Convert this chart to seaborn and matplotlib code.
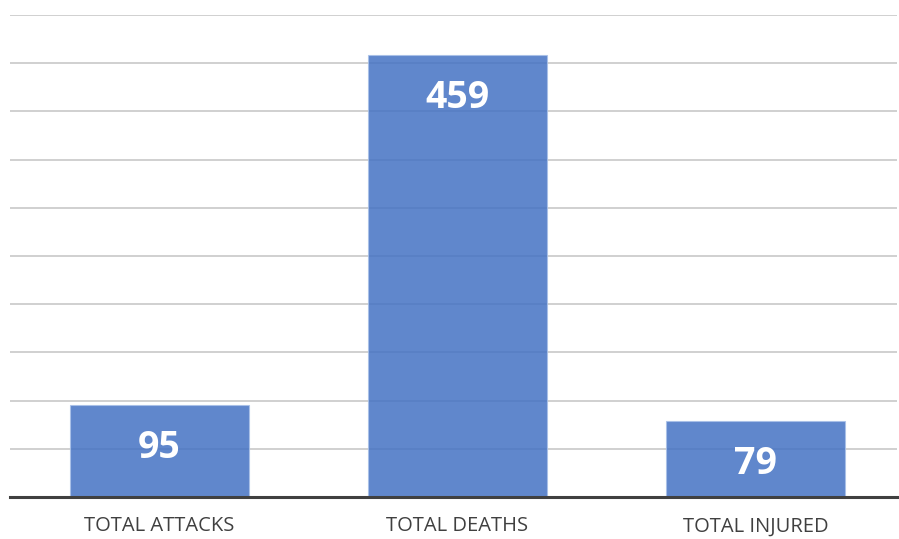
import pandas as pd
import matplotlib.pyplot as plt
import seaborn as sns

categories = ["TOTAL ATTACKS", "TOTAL DEATHS", "TOTAL INJURED"]
values = [95, 459, 79]

df = pd.DataFrame({"category": categories, "value": values})

sns.set_style("white")
plt.rcParams["font.family"] = ["Open Sans", "DejaVu Sans"]

fig = plt.figure(figsize=(8.99, 5.39), dpi=100)
ax = fig.add_axes([10 / 899, 1 - 497 / 539, 887 / 899, (497 - 15) / 539])

sns.barplot(data=df, x="category", y="value", ax=ax, color="#4472C4",
            alpha=0.85, width=0.6, edgecolor="#a9c0e8", linewidth=0.8,
            saturation=1)

ax.set_xlim(-0.5, 2.475)
ax.set_ylim(0, 500)
ax.set_yticks(range(50, 501, 50))
ax.set_axisbelow(True)
ax.yaxis.grid(True, color="#c4c4c4", linewidth=1.1)
ax.tick_params(axis="y", left=False, labelleft=False)
ax.tick_params(axis="x", length=0, pad=14, labelsize=14.5, labelcolor="#404040")
ax.set_xlabel("")
ax.set_ylabel("")

for side in ["top", "right", "left"]:
    ax.spines[side].set_visible(False)
ax.spines["bottom"].set_color("#404040")
ax.spines["bottom"].set_linewidth(2.2)

# value labels sit inside the top of each bar
for i, v in enumerate(values):
    ax.annotate(str(v), xy=(i, v), xytext=(0, -43), textcoords="offset pixels",
                ha="center", va="center", color="white", fontsize=27,
                fontweight="bold")

fig.savefig("out.png", dpi=100)
